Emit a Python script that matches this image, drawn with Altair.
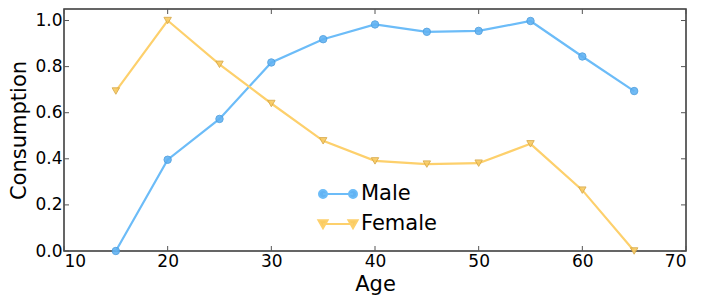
import altair as alt
import pandas as pd

ages = [15, 20, 25, 30, 35, 40, 45, 50, 55, 60, 65]
male = [0.0, 0.396, 0.573, 0.818, 0.919, 0.983, 0.951, 0.955, 0.998, 0.844, 0.694]
female = [0.694, 1.0, 0.81, 0.640, 0.478, 0.391, 0.377, 0.381, 0.465, 0.264, 0.0]
series = ["Male", "Female"]
x_ticks = [10, 20, 30, 40, 50, 60, 70]
y_ticks = [0.0, 0.2, 0.4, 0.6, 0.8, 1.0]

line_colors = ["#6cbcf8", "#fdd06c"]
marker_fill = ["#62b3f3", "#f9cb62"]
marker_stroke = ["#4d9fe0", "#d9aa48"]

W, H = 622, 242
FONT = "DejaVu Sans"

df = pd.DataFrame(
    [{"Age": a, "Consumption": v, "series": "Male"} for a, v in zip(ages, male)]
    + [{"Age": a, "Consumption": v, "series": "Female"} for a, v in zip(ages, female)]
)
xt = pd.DataFrame({"t": x_ticks})
yt = pd.DataFrame({"t": y_ticks})

xscale = alt.Scale(domain=[10, 70], nice=False, zero=False)
yscale = alt.Scale(domain=[0, 1.05], nice=False, zero=False)

xax = alt.Axis(values=x_ticks, format="d", tickSize=0, domain=False, grid=False,
               labelFontSize=17, labelFont=FONT, labelColor="#000", labelPadding=2,
               titleFontSize=21, titleFont=FONT, titleFontWeight="normal", titleColor="#000",
               titlePadding=4)
yax = alt.Axis(values=y_ticks, format=".1f", tickSize=0, domain=False, grid=False,
               labelFontSize=17, labelFont=FONT, labelColor="#000", labelPadding=2,
               titleFontSize=21, titleFont=FONT, titleFontWeight="normal", titleColor="#000",
               titlePadding=5)

color_line = alt.Color("series:N", scale=alt.Scale(domain=series, range=line_colors), legend=None)

lines = alt.Chart(df).mark_line(strokeWidth=2.2).encode(
    x=alt.X("Age:Q", scale=xscale, axis=xax, title="Age"),
    y=alt.Y("Consumption:Q", scale=yscale, axis=yax, title="Consumption"),
    color=color_line,
    detail="series:N",
)

points = alt.Chart(df).mark_point(filled=True, opacity=0.9, strokeWidth=1, size=55).encode(
    x=alt.X("Age:Q", scale=xscale),
    y=alt.Y("Consumption:Q", scale=yscale),
    fill=alt.Fill("series:N", scale=alt.Scale(domain=series, range=marker_fill), legend=None),
    stroke=alt.Stroke("series:N", scale=alt.Scale(domain=series, range=marker_stroke), legend=None),
    shape=alt.Shape("series:N", scale=alt.Scale(domain=series, range=["circle", "triangle-down"]), legend=None),
)

# legend symbols: line with a marker at each end
male_sym = ("M-0.79,0L0.79,0"
            "M-1,0a0.21,0.21 0 1,0 0.42,0a0.21,0.21 0 1,0 -0.42,0"
            "M0.58,0a0.21,0.21 0 1,0 0.42,0a0.21,0.21 0 1,0 -0.42,0")
female_sym = ("M-0.79,0L0.79,0"
              "M-1.03,-0.2L-0.55,-0.2L-0.79,0.22Z"
              "M0.55,-0.2L1.03,-0.2L0.79,0.22Z")

leg = alt.Legend(
    title=None, orient="none", legendX=254, legendY=165,
    labelFontSize=21, labelFont=FONT, labelColor="#000",
    symbolSize=1444, symbolStrokeWidth=2, symbolOpacity=1, labelOffset=3, rowPadding=-11,
)

legend_layer = alt.Chart(df).mark_point(opacity=0, filled=True).encode(
    x=alt.X("Age:Q", scale=xscale),
    y=alt.Y("Consumption:Q", scale=yscale),
    shape=alt.Shape("series:N", scale=alt.Scale(domain=series, range=[male_sym, female_sym]), legend=leg),
    fill=alt.Fill("series:N", scale=alt.Scale(domain=series, range=marker_fill), legend=leg),
    stroke=alt.Stroke("series:N", scale=alt.Scale(domain=series, range=line_colors), legend=leg),
)

tick_len = 5
tick_color = "#555"
bottom_ticks = alt.Chart(xt).mark_rule(color=tick_color, strokeWidth=1).encode(
    x=alt.X("t:Q", scale=xscale), y=alt.value(H), y2=alt.value(H - tick_len))
top_ticks = alt.Chart(xt).mark_rule(color=tick_color, strokeWidth=1).encode(
    x=alt.X("t:Q", scale=xscale), y=alt.value(0), y2=alt.value(tick_len))
left_ticks = alt.Chart(yt).mark_rule(color=tick_color, strokeWidth=1).encode(
    y=alt.Y("t:Q", scale=yscale), x=alt.value(0), x2=alt.value(tick_len))
right_ticks = alt.Chart(yt).mark_rule(color=tick_color, strokeWidth=1).encode(
    y=alt.Y("t:Q", scale=yscale), x=alt.value(W), x2=alt.value(W - tick_len))

chart = alt.layer(
    bottom_ticks, top_ticks, left_ticks, right_ticks, lines, points, legend_layer
).resolve_scale(shape="independent", fill="independent", stroke="independent").properties(
    width=W, height=H,
    padding={"left": 0, "top": 0, "right": 5, "bottom": 5},
).configure(background="white").configure_view(stroke="#333", strokeWidth=1.5)

chart.save("out.html", embed_options={"renderer": "svg", "actions": False})
